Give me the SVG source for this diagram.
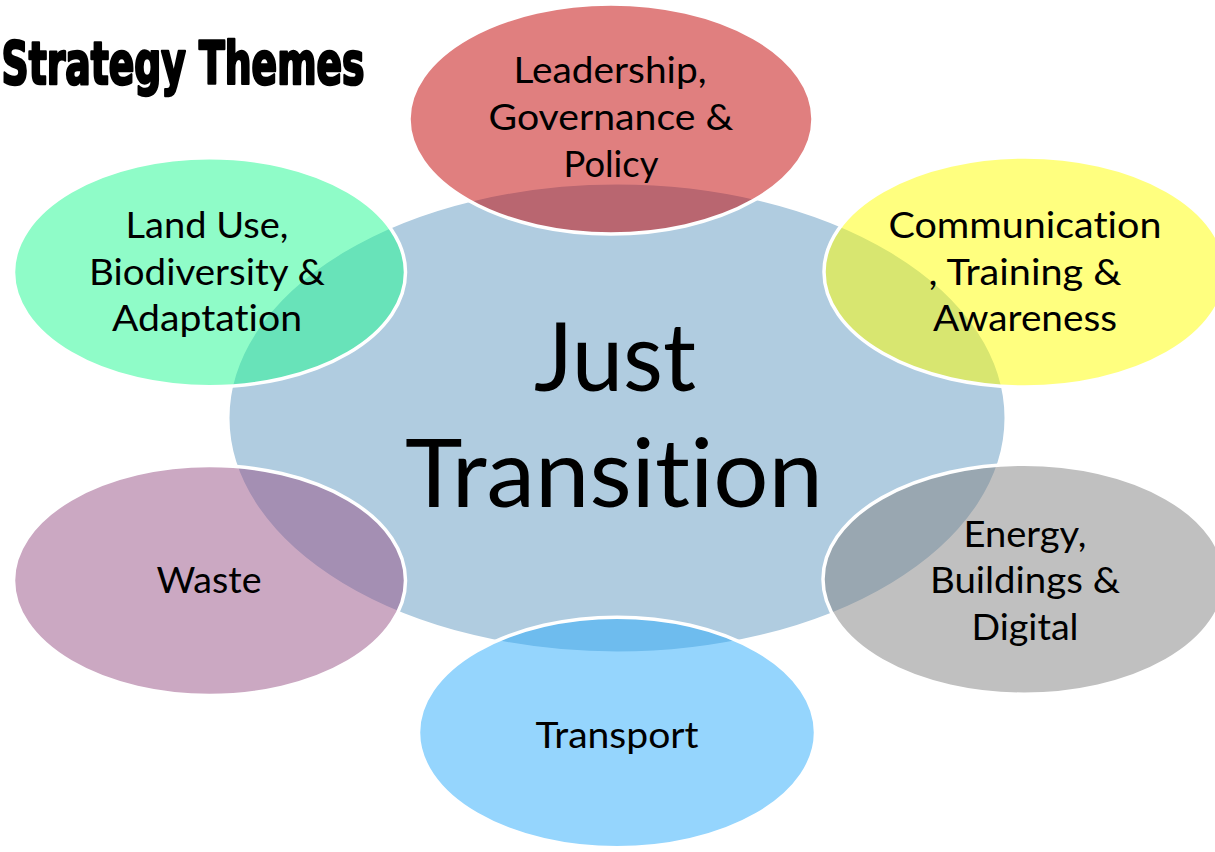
<svg xmlns="http://www.w3.org/2000/svg" width="1215" height="852" viewBox="0 0 1215 852">
  <style>
    .sat { stroke: #FFFFFF; stroke-width: 3.5; fill-opacity: 0.5; }
    .lbl { font-family: Lato, "Open Sans", "Liberation Sans", sans-serif; font-size: 37px; fill: #000000; text-anchor: middle; font-variant-ligatures: none; font-feature-settings: "liga" 0, "clig" 0; }
    .big { font-family: Lato, "Open Sans", "Liberation Sans", sans-serif; font-size: 95px; fill: #000000; text-anchor: middle; font-variant-ligatures: none; font-feature-settings: "liga" 0, "clig" 0; }
    .title { font-family: "Liberation Sans Narrow", "DejaVu Sans Condensed", "DejaVu Sans", sans-serif; font-weight: 900; font-size: 58px; fill: #000000; stroke: #000000; stroke-width: 2.6; stroke-linejoin: round; }
  </style>
  <rect x="0" y="0" width="1215" height="852" fill="#FFFFFF"/>
  <text class="title" x="1.5" y="84" textLength="363" lengthAdjust="spacingAndGlyphs">Strategy Themes</text>

  <g id="node-center">
    <ellipse cx="617" cy="418" rx="389" ry="235" fill="#B0CCE0" stroke="#FFFFFF" stroke-width="3"/>
    <text class="big" x="615" y="391" textLength="162" lengthAdjust="spacingAndGlyphs">Just</text>
    <text class="big" x="614" y="507" textLength="418" lengthAdjust="spacingAndGlyphs">Transition</text>
  </g>

  <g id="connectors"></g>

  <g id="node-leadership">
    <ellipse class="sat" cx="611" cy="119" rx="202" ry="115" fill="#C10000"/>
    <text class="lbl" x="610" y="83" textLength="193" lengthAdjust="spacingAndGlyphs">Leadership,</text>
    <text class="lbl" x="611" y="130" textLength="245" lengthAdjust="spacingAndGlyphs">Governance &amp;</text>
    <text class="lbl" x="611" y="177" textLength="95" lengthAdjust="spacingAndGlyphs">Policy</text>
  </g>

  <g id="node-communication">
    <ellipse class="sat" cx="1025" cy="272" rx="201" ry="115" fill="#FFFF00"/>
    <text class="lbl" x="1025" y="238" textLength="273" lengthAdjust="spacingAndGlyphs">Communication</text>
    <text class="lbl" x="1025" y="285" textLength="193" lengthAdjust="spacingAndGlyphs">, Training &amp;</text>
    <text class="lbl" x="1025" y="331" textLength="184" lengthAdjust="spacingAndGlyphs">Awareness</text>
  </g>

  <g id="node-landuse">
    <ellipse class="sat" cx="209.5" cy="272.3" rx="196" ry="114.5" fill="#1FF991"/>
    <text class="lbl" x="207" y="238" textLength="163" lengthAdjust="spacingAndGlyphs">Land Use,</text>
    <text class="lbl" x="207" y="285" textLength="236" lengthAdjust="spacingAndGlyphs">Biodiversity &amp;</text>
    <text class="lbl" x="207" y="331" textLength="190" lengthAdjust="spacingAndGlyphs">Adaptation</text>
  </g>

  <g id="node-waste">
    <ellipse class="sat" cx="209.5" cy="580.5" rx="196" ry="115" fill="#975185"/>
    <text class="lbl" x="209" y="593" textLength="105" lengthAdjust="spacingAndGlyphs">Waste</text>
  </g>

  <g id="node-energy">
    <ellipse class="sat" cx="1024" cy="579.2" rx="201" ry="115" fill="#818181"/>
    <text class="lbl" x="1025" y="547" textLength="123" lengthAdjust="spacingAndGlyphs">Energy,</text>
    <text class="lbl" x="1025" y="593" textLength="190" lengthAdjust="spacingAndGlyphs">Buildings &amp;</text>
    <text class="lbl" x="1025" y="640" textLength="107" lengthAdjust="spacingAndGlyphs">Digital</text>
  </g>

  <g id="node-transport">
    <ellipse class="sat" cx="617" cy="732.5" rx="198.5" ry="115.3" fill="#2BABFB"/>
    <text class="lbl" x="617" y="748" textLength="163" lengthAdjust="spacingAndGlyphs">Transport</text>
  </g>
</svg>
